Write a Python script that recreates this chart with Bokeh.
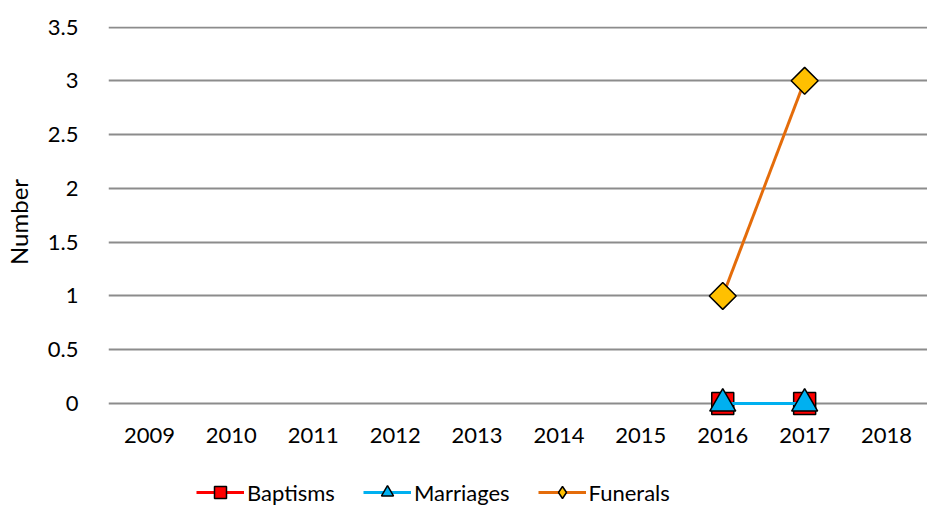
import math
from bokeh.plotting import figure
from bokeh.layouts import column
from bokeh.models import Range1d, FixedTicker, Legend, LegendItem
from bokeh.embed import file_html
from bokeh.resources import INLINE

years = [2009, 2010, 2011, 2012, 2013, 2014, 2015, 2016, 2017, 2018]
nan = float("nan")
baptisms = [nan, nan, nan, nan, nan, nan, nan, 0, 0, nan]
marriages = [nan, nan, nan, nan, nan, nan, nan, 0, 0, nan]
funerals = [nan, nan, nan, nan, nan, nan, nan, 1, 3, nan]
series_names = ["Baptisms", "Marriages", "Funerals"]
y_ticks = [0, 0.5, 1, 1.5, 2, 2.5, 3, 3.5]
y_tick_labels = ["0", "0.5", "1", "1.5", "2", "2.5", "3", "3.5"]
x_tick_labels = [str(y) for y in years]

FONT = "Lato"
GRID = "#8c8c8c"

styles = {
    "Baptisms": dict(line_color="#FF0000", marker="square", legend_marker="square",
                     size=22, angle=0.0, fill_color="#FF0000"),
    "Marriages": dict(line_color="#00B0F0", marker="triangle", legend_marker="triangle",
                      size=26, angle=0.0, fill_color="#00B0F0"),
    "Funerals": dict(line_color="#E46C0A", marker="square", legend_marker="diamond",
                     size=19, angle=math.pi / 4, fill_color="#FFC000"),
}
values = {"Baptisms": baptisms, "Marriages": marriages, "Funerals": funerals}

p = figure(width=927, height=474, output_backend="svg", toolbar_location=None,
           x_range=Range1d(2008.5, 2018.5), y_range=Range1d(-0.13, 3.505),
           min_border_left=98, min_border_top=26, min_border_right=0, min_border_bottom=57)
p.outline_line_color = None
p.background_fill_color = "white"

p.xgrid.grid_line_color = None
p.ygrid.grid_line_color = GRID
p.ygrid.grid_line_width = 2
p.ygrid.ticker = FixedTicker(ticks=y_ticks)

p.yaxis.ticker = FixedTicker(ticks=y_ticks)
p.yaxis.major_label_overrides = {t: l for t, l in zip(y_ticks, y_tick_labels)}
p.xaxis.ticker = FixedTicker(ticks=years)
p.xaxis.major_label_overrides = {y: l for y, l in zip(years, x_tick_labels)}
for ax in (p.xaxis, p.yaxis):
    ax.axis_line_color = None
    ax.major_tick_line_color = None
    ax.minor_tick_line_color = None
    ax.major_label_text_font = FONT
    ax.major_label_text_font_size = "22px"
    ax.major_label_text_color = "black"
p.yaxis.major_label_standoff = 24
p.xaxis.major_label_standoff = 4
p.yaxis.axis_label = "Number"
p.yaxis.axis_label_text_font = FONT
p.yaxis.axis_label_text_font_size = "24px"
p.yaxis.axis_label_text_font_style = "normal"
p.yaxis.axis_label_text_color = "black"
p.yaxis.axis_label_standoff = 12

for name in series_names:
    st = styles[name]
    p.line(years, values[name], line_color=st["line_color"], line_width=3)
    p.scatter(years, values[name], marker=st["marker"], size=st["size"], angle=st["angle"],
              fill_color=st["fill_color"], line_color="black", line_width=1.5)

# legend strip below the chart (legend proxies only, carrying no data)
lg = figure(width=927, height=33, output_backend="svg", toolbar_location=None,
            x_range=Range1d(0, 1), y_range=Range1d(0, 1),
            x_axis_location=None, y_axis_location=None,
            min_border_left=0, min_border_right=0, min_border_top=0, min_border_bottom=0)
lg.outline_line_color = None
lg.grid.visible = False
items = []
for name in series_names:
    st = styles[name]
    r1 = lg.line(x=[nan], y=[nan], line_color=st["line_color"], line_width=3)
    r2 = lg.scatter(x=[nan], y=[nan], marker=st["legend_marker"],
                    fill_color=st["fill_color"], line_color="black", line_width=1.5)
    items.append(LegendItem(label=name, renderers=[r1, r2]))
legend = Legend(items=items, orientation="horizontal", location=(88, 0))
legend.label_text_font = FONT
legend.label_text_font_size = "22px"
legend.label_text_color = "black"
legend.glyph_width = 48
legend.glyph_height = 30
legend.label_standoff = 3
legend.spacing = 28
legend.padding = 0
legend.margin = 0
legend.border_line_color = None
legend.background_fill_alpha = 0
lg.add_layout(legend, "center")

layout = column(p, lg, spacing=0)
open("out.html", "w").write(file_html(layout, INLINE))
